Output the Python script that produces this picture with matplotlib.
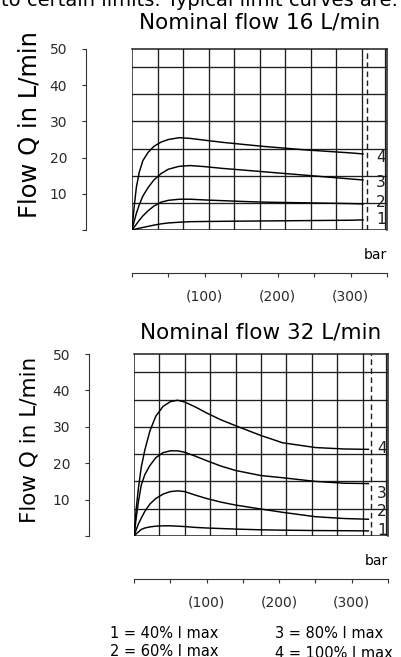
import matplotlib
matplotlib.use('Agg')
import matplotlib.pyplot as plt

# Canvas size in pixels (dpi 100)
W, H = 401, 657
PT = 72 / 100  # points per pixel

pressure_16 = [0, 3, 6, 10, 15, 22, 30, 40, 50, 65, 80, 100, 125, 150, 180, 210, 240, 270, 300, 318]
pressure_32 = [0, 3, 6, 10, 15, 22, 30, 40, 50, 60, 70, 85, 100, 120, 140, 175, 205, 250, 290, 324]

# Flow Q in L/min, nominal flow 16 L/min (curve 1 = 40 %, ... curve 4 = 100 % I max)
q1_16 = [0, 0.15, 0.3, 0.5, 0.7, 1.0, 1.35, 1.7, 1.95, 2.15, 2.3, 2.35, 2.4, 2.45, 2.5, 2.55, 2.6, 2.65, 2.7, 2.8]
q2_16 = [0, 0.8, 1.6, 2.7, 3.9, 5.3, 6.6, 7.7, 8.2, 8.5, 8.5, 8.3, 8.1, 7.9, 7.7, 7.6, 7.5, 7.4, 7.3, 7.2]
q3_16 = [0, 2.4, 4.6, 7.0, 9.4, 11.7, 13.8, 15.6, 16.8, 17.6, 17.8, 17.5, 17.0, 16.6, 16.1, 15.6, 15.1, 14.6, 14.1, 13.8]
q4_16 = [0, 6.5, 11.8, 16.0, 19.2, 21.4, 23.1, 24.3, 25.0, 25.5, 25.3, 24.8, 24.2, 23.7, 23.1, 22.6, 22.1, 21.7, 21.3, 21.0]

# Flow Q in L/min, nominal flow 32 L/min
q1_32 = [0, 0.6, 1.1, 1.8, 2.2, 2.5, 2.7, 2.8, 2.8, 2.7, 2.6, 2.35, 2.2, 2.05, 1.9, 1.7, 1.6, 1.5, 1.45, 1.4]
q2_32 = [0, 1.7, 3.3, 4.9, 6.8, 8.8, 10.3, 11.5, 12.2, 12.4, 12.2, 11.2, 10.3, 9.3, 8.5, 7.4, 6.5, 5.3, 4.8, 4.6]
q3_32 = [0, 4.9, 9.3, 14.0, 16.9, 19.4, 21.5, 22.9, 23.4, 23.4, 23.0, 21.9, 20.7, 19.2, 18.0, 16.6, 16.0, 15.0, 14.5, 14.4]
q4_32 = [0, 7.4, 13.0, 18.9, 23.7, 28.9, 32.9, 35.6, 36.9, 37.3, 36.8, 35.4, 33.8, 31.9, 30.3, 27.6, 25.6, 24.3, 23.9, 23.8]

curve_tags = ['1', '2', '3', '4']
tag_y_16 = [2.8, 7.7, 13.0, 19.9]
tag_y_32 = [1.6, 6.6, 11.7, 24.0]
limit_16 = 322
limit_32 = 326

y_ticks = [0, 10, 20, 30, 40, 50]
y_labels = ['', '10', '20', '30', '40', '50']
x_ticks = [0, 50, 100, 150, 200, 250, 300, 350]
x_labels = ['', '', '(100)', '', '(200)', '', '(300)', '']

legend_left = ['1 = 40% I max', '2 = 60% I max']
legend_right = ['3 = 80% I max', '4 = 100% I max']

INK = '#1e1e1e'


def px_axes(fig, x0, y0, x1, y1):
    return fig.add_axes([x0 / W, 1 - y1 / H, (x1 - x0) / W, (y1 - y0) / H])


def draw_chart(fig, box, left_gap, bottom_gap, pressure, curves, tag_y, limit, title, title_y, ylabel_size, ylabel_y):
    x0, y0, x1, y1 = box
    ax = px_axes(fig, *box)
    ax.set_xlim(0, 350)
    ax.set_ylim(0, 50)
    ax.patch.set_alpha(0)

    # grid of the diagram
    for gx in range(35, 350, 35):
        ax.axvline(gx, color=INK, lw=0.95, zorder=1)
    for gy in [7.5, 15, 22.5, 30, 37.5, 45]:
        ax.axhline(gy, color=INK, lw=0.95, zorder=1)
    ax.axvline(0, color=INK, lw=1.1, zorder=1)
    ax.axhline(0, color=INK, lw=1.1, zorder=1)
    ax.axvline(347.5, color=INK, lw=0.9, zorder=1)
    ax.axvline(limit, color=INK, lw=1.0, ls=(0, (4, 2.5)), zorder=1)

    for spine in ['top', 'right']:
        ax.spines[spine].set_color(INK)
        ax.spines[spine].set_linewidth(1.1)

    # detached axes
    ax.spines['left'].set_position(('outward', left_gap * PT))
    ax.spines['bottom'].set_position(('outward', bottom_gap * PT))
    for spine in ['left', 'bottom']:
        ax.spines[spine].set_color('#333333')
        ax.spines[spine].set_linewidth(0.8)

    ax.set_yticks(y_ticks)
    ax.set_yticklabels(y_labels)
    ax.set_xticks(x_ticks)
    ax.set_xticklabels(x_labels)
    ax.tick_params(axis='y', direction='out', length=3 * PT * 1.4, width=0.8,
                   color='#333333', pad=10.5, labelsize=10, labelcolor='#2a2a2a')
    ax.tick_params(axis='x', direction='out', length=3 * PT * 1.4, width=0.8,
                   color='#333333', pad=9, labelsize=10, labelcolor='#2a2a2a')

    for q in curves:
        ax.plot(pressure, q, color='black', lw=1.05, zorder=3, solid_capstyle='butt')
    for tag, ty in zip(curve_tags, tag_y):
        ax.text(335, ty, tag, fontsize=11, color=INK, ha='left', va='center')

    fig.text(x1 / W, 1 - (y1 + 25) / H, 'bar', fontsize=10, ha='right', va='center')
    fig.text((x0 + x1) / 2 / W, 1 - title_y / H, title, fontsize=15.5, ha='center', va='center')
    fig.text(30 / W, 1 - ylabel_y / H, 'Flow Q in L/min', fontsize=ylabel_size,
             rotation=90, ha='center', va='center')
    return ax


fig = plt.figure(figsize=(W / 100, H / 100), dpi=100)

# cropped line of the surrounding page text
fig.text(398 / W, 1 - 6 / H, 'to certain limits. Typical limit curves are:', fontsize=14,
         ha='right', va='baseline')

draw_chart(fig, (132, 49, 387, 230), 46, 43, pressure_16, [q1_16, q2_16, q3_16, q4_16],
           tag_y_16, limit_16, 'Nominal flow 16 L/min', 23, 17.5, 125)
draw_chart(fig, (134, 354, 388, 536), 45, 43, pressure_32, [q1_32, q2_32, q3_32, q4_32],
           tag_y_32, limit_32, 'Nominal flow 32 L/min', 333, 15.5, 440)

for i, line in enumerate(legend_left):
    fig.text(110 / W, 1 - (633 + 18 * i) / H, line, fontsize=10.5, ha='left', va='center')
for i, line in enumerate(legend_right):
    fig.text(275 / W, 1 - (634 + 19 * i) / H, line, fontsize=10.5, ha='left', va='center')

fig.savefig('out.png', dpi=100)
